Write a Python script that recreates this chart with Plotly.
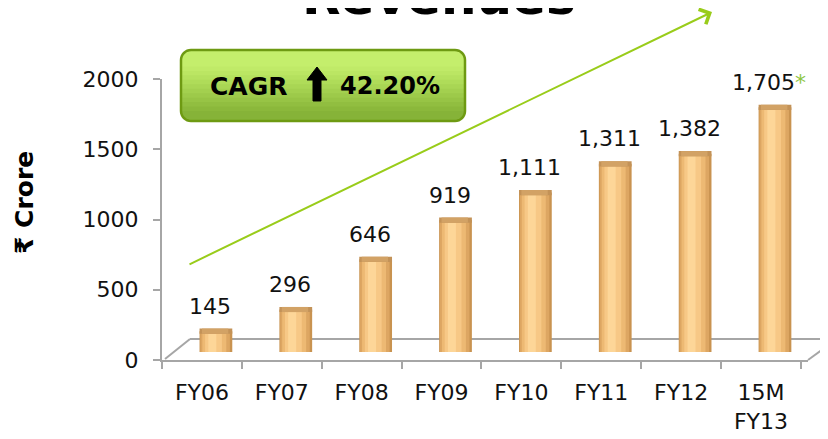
import math
import plotly.graph_objects as go

# ---- data ----
categories = ["FY06", "FY07", "FY08", "FY09", "FY10", "FY11", "FY12", "15M<br>FY13"]
revenue = [145, 296, 646, 919, 1111, 1311, 1382, 1705]
value_labels = ["145", "296", "646", "919", "1,111", "1,311", "1,382", "1,705"]
y_ticks = [0, 500, 1000, 1500, 2000]
title_text = "Revenues"
y_title = "₹ Crore"
cagr_left = "CAGR"
cagr_right = "42.20%"

# the page body adds an 8 px offset; layout is planned in window pixels
OFF = 8
W, H = 828, 439
PLOT_L, PLOT_R, PLOT_T, PLOT_B = 162, 808, 79, 360   # window pixels of the plot area
ML, MT = PLOT_L - OFF, PLOT_T - OFF
MR, MB = W - (PLOT_R - OFF), H - (PLOT_B - OFF)
PW, PH = PLOT_R - PLOT_L, PLOT_B - PLOT_T
FONT = "DejaVu Sans"


def px(x):  # window x -> paper
    return (x - PLOT_L) / PW


def py(y):  # window y -> paper
    return (PLOT_B - y) / PH


def path_from(points):
    return "M " + " L ".join(f"{px(a):.5f},{py(b):.5f}" for a, b in points) + " Z"


def rounded_rect(x0, y0, x1, y1, r, round_bottom=True):
    pts = []
    for cx, cy, a0, a1 in [(x0 + r, y0 + r, 180, 270), (x1 - r, y0 + r, 270, 360)]:
        for k in range(9):
            a = math.radians(a0 + (a1 - a0) * k / 8)
            pts.append((cx + r * math.cos(a), cy + r * math.sin(a)))
    if round_bottom:
        for cx, cy, a0, a1 in [(x1 - r, y1 - r, 0, 90), (x0 + r, y1 - r, 90, 180)]:
            for k in range(9):
                a = math.radians(a0 + (a1 - a0) * k / 8)
                pts.append((cx + r * math.cos(a), cy + r * math.sin(a)))
    else:
        pts += [(x1, y1), (x0, y1)]
    return path_from(pts)


fig = go.Figure()

# invisible trace so the tick axes form a drawn subplot
fig.add_trace(go.Scatter(x=categories, y=revenue, xaxis="x", yaxis="y", mode="markers",
                         marker=dict(opacity=0), hoverinfo="skip", showlegend=False))

# cylinder-like bars: layered overlay bars for a horizontal shading
layers = [
    (0.41, -0.03, "#C99350"),
    (0.37, -0.02, "#DDA662"),
    (0.30, 0.005, "#EDB973"),
    (0.21, 0.04, "#F7C886"),
    (0.10, 0.08, "#FDD698"),
]
for w, off, col in layers:
    fig.add_trace(go.Bar(
        x=categories, y=revenue, xaxis="x", yaxis="y2",
        width=w, offset=off, marker=dict(color=col, line=dict(width=0)),
        hoverinfo="skip", showlegend=False,
    ))

# darker cylinder cap at the top of each bar
cap = 36  # cap thickness in value units (~5 px)
for w, off, col in [(0.41, -0.03, "#C39257"), (0.33, 0.0, "#D2A265")]:
    fig.add_trace(go.Bar(
        x=categories, y=[cap] * len(revenue), base=[v - cap / 2 for v in revenue],
        xaxis="x", yaxis="y2", width=w, offset=off,
        marker=dict(color=col, line=dict(width=0)), hoverinfo="skip", showlegend=False,
    ))

# value labels
for i, (c, v, t) in enumerate(zip(categories, revenue, value_labels)):
    txt = t
    if i == len(categories) - 1:
        txt = t + "<span style='color:#8DC63F'>*</span>"
    fig.add_annotation(x=c, y=v, xref="x", yref="y2", text=txt, showarrow=False,
                       xanchor="center", yanchor="middle", yshift=25, xshift=8,
                       font=dict(family=FONT, size=22, color="#111111"))

# CAGR box with vertical gradient (stacked bands)
bx0, bx1, by0, by1, br = 181, 465, 50, 121, 10
fig.add_shape(type="path", xref="paper", yref="paper", path=rounded_rect(bx0, by0, bx1, by1, br),
              fillcolor="#86B338", line=dict(width=0), layer="above")
grad = ["#8BB83B", "#91BE40", "#97C445", "#9DCA4A", "#A3D04F", "#A9D654", "#AFDC59",
        "#B5E15E", "#BBE663", "#C0EA68", "#C4EE6C"]
n = len(grad)
for k, col in enumerate(grad):
    yb = (by1 - br) - k * ((by1 - br) - (by0 + br + 2)) / n
    fig.add_shape(type="path", xref="paper", yref="paper",
                  path=rounded_rect(bx0, by0, bx1, yb, br, round_bottom=False),
                  fillcolor=col, line=dict(width=0), layer="above")
fig.add_shape(type="path", xref="paper", yref="paper", path=rounded_rect(bx0, by0, bx1, by1, br),
              fillcolor="rgba(0,0,0,0)", line=dict(color="#6E9A12", width=2.5), layer="above")
# thick up-arrow symbol inside the box
fig.add_shape(type="path", xref="paper", yref="paper",
              path=path_from([(313, 101), (313, 80), (307, 80), (317, 67), (327, 80), (321, 80), (321, 101)]),
              fillcolor="#000000", line=dict(color="#000000", width=1), layer="above")

fig.add_annotation(x=px(248), y=py(86), xref="paper", yref="paper", text="<b>" + cagr_left + "</b>",
                   showarrow=False, xanchor="center", yanchor="middle",
                   font=dict(family=FONT, size=25, color="#000000"))
fig.add_annotation(x=px(390), y=py(86), xref="paper", yref="paper", text="<b>" + cagr_right + "</b>",
                   showarrow=False, xanchor="center", yanchor="middle",
                   font=dict(family=FONT, size=24, color="#000000"))

# title (mostly cut off at the top of the picture)
fig.add_annotation(x=px(439), y=py(28), xref="paper", yref="paper", text="<b>" + title_text + "</b>",
                   showarrow=False, xanchor="center", yanchor="bottom",
                   font=dict(family=FONT, size=50, color="#000000"))

# y title
fig.add_annotation(x=px(24), y=py(203), xref="paper", yref="paper", text="<b>" + y_title + "</b>",
                   showarrow=False, textangle=-90, xanchor="center", yanchor="middle",
                   font=dict(family=FONT, size=25, color="#000000"))

# growth arrow
fig.add_annotation(x=px(712), y=py(12), xref="paper", yref="paper", text="",
                   showarrow=True, ax=-524, ay=253, arrowhead=4, arrowsize=1.6,
                   arrowwidth=2, arrowcolor="#99CC1A")

# 3D floor decoration
grey = "#A6A6A6"
for (xa, ya, xb, yb) in [(190, 339, 830, 339), (165, 359, 190, 339), (808, 360, 830, 344)]:
    fig.add_shape(type="line", xref="paper", yref="paper", x0=px(xa), y0=py(ya), x1=px(xb), y1=py(yb),
                  line=dict(color=grey, width=2), layer="below")

# bar axis: bars rise from the middle of the 3D floor (8 px above the front edge)
bar_scale = 0.1435  # px per unit
y2_lo = -8 / bar_scale
y2_hi = y2_lo + PH / bar_scale

fig.update_layout(
    width=W, height=H,
    margin=dict(l=ML, r=MR, t=MT, b=MB, autoexpand=False),
    paper_bgcolor="white", plot_bgcolor="rgba(0,0,0,0)",
    barmode="overlay",
    showlegend=False,
    xaxis=dict(type="category", categoryarray=categories, automargin=False,
               showline=True, linecolor=grey, linewidth=2, ticks="outside", ticklen=7,
               tickcolor=grey, tickwidth=2, tickson="boundaries", showgrid=False,
               ticklabelstandoff=12,
               tickfont=dict(family=FONT, size=22, color="#111111"), fixedrange=True),
    yaxis=dict(range=[0, 2000], tickvals=y_ticks, automargin=False,
               showline=True, linecolor=grey, linewidth=2, ticks="outside", ticklen=7,
               tickcolor=grey, tickwidth=2, showgrid=False, zeroline=False,
               ticklabelstandoff=10,
               tickfont=dict(family=FONT, size=22, color="#111111")),
    yaxis2=dict(overlaying="y", range=[y2_lo, y2_hi], visible=False, showgrid=False,
                zeroline=False, automargin=False),
)

fig.write_html("out.html")
